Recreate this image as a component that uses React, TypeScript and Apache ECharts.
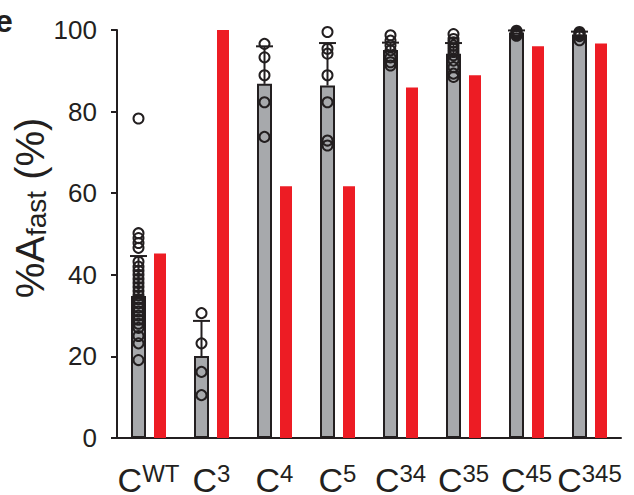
import React, { useEffect, useRef } from "react";
import * as echarts from "echarts";

const categories = ["WT", "3", "4", "5", "34", "35", "45", "345"];
const grayMeans = [34.8, 20.1, 86.8, 86.4, 95.1, 94.2, 99.4, 98.9];
const errTops = [44.6, 28.7, 96.0, 96.8, 96.9, 96.8, 99.9, 99.6];
const redValues = [45.2, 100, 61.7, 61.7, 85.9, 88.9, 96.0, 96.7];
const pointsWT = [78.3, 50.2, 49.0, 47.8, 46.6, 43.2, 42.0, 41.0, 40.0, 39.0, 38.0, 37.0, 36.0, 35.0, 34.0, 33.0, 32.0, 31.0, 30.0, 29.0, 28.0, 27.0, 25.0, 23.2, 19.1];
const points3 = [30.6, 23.2, 16.2, 10.5];
const points4 = [96.6, 93.3, 88.9, 82.3, 73.8];
const points5 = [99.5, 95.4, 94.2, 88.9, 82.3, 72.9, 71.7];
const points34 = [98.7, 97.4, 96.2, 95.0, 93.3, 92.1, 91.3];
const points35 = [99.0, 97.8, 97.0, 96.2, 95.4, 94.6, 93.8, 92.5, 90.9, 89.3, 88.5];
const points45 = [99.8, 99.5, 99.2, 98.9, 98.6];
const points345 = [99.5, 99.2, 98.9, 98.5, 97.5];
const pointGroups = [pointsWT, points3, points4, points5, points34, points35, points45, points345];

const FONT = '"Liberation Sans", Arial, sans-serif';
const INK = "#231f20";
const GRAY_W = 15;
const RED_W = 12;
const GAP = 8;
const GRAY_OFFSET = -(GRAY_W + GAP + RED_W) / 2 + GRAY_W / 2;

export default function App() {
  const ref = useRef<HTMLDivElement>(null);
  useEffect(() => {
    if (!ref.current) return;
    const chart = echarts.init(ref.current, null, { renderer: "svg" });
    const scatterData: number[][] = [];
    pointGroups.forEach((g, i) => g.forEach((v) => scatterData.push([i, v])));
    const errData = grayMeans.map((m, i) => [i, m, errTops[i]]);
    chart.setOption({
      animation: false,
      textStyle: { fontFamily: FONT },
      grid: { left: 117, right: 13, top: 30, bottom: 57, outerBoundsMode: "none", containLabel: false },
      xAxis: {
        type: "category",
        data: categories,
        axisLine: { lineStyle: { color: INK, width: 2 } },
        axisTick: { alignWithLabel: true, length: 6, lineStyle: { color: INK, width: 2 } },
        axisLabel: {
          interval: 0,
          margin: 23,
          formatter: (v: string) => `{c|C}{s|${v}}`,
          rich: {
            c: { fontSize: 34, fontFamily: FONT, color: INK, lineHeight: 38 },
            s: { fontSize: 24, fontFamily: FONT, color: INK, verticalAlign: "top", lineHeight: 26 },
          },
        },
      },
      yAxis: {
        type: "value",
        min: 0,
        max: 100,
        interval: 20,
        splitLine: { show: false },
        axisLine: { show: true, lineStyle: { color: INK, width: 2 } },
        axisTick: { show: true, length: 6, lineStyle: { color: INK, width: 2 } },
        axisLabel: { fontSize: 26, color: INK, fontFamily: FONT, margin: 20 },
      },
      graphic: [
        {
          type: "text",
          x: -5,
          y: 21,
          style: { text: "e", font: `bold 32px ${FONT}`, fill: INK, verticalAlign: "middle" },
        },
        {
          type: "text",
          x: 30,
          y: 208,
          rotation: Math.PI / 2,
          style: {
            text: "{a|%A}{b|fast}{a| (%)}",
            align: "center",
            verticalAlign: "middle",
            rich: {
              a: { fontSize: 40, fontFamily: FONT, fill: INK, lineHeight: 40 },
              b: { fontSize: 28, fontFamily: FONT, fill: INK, verticalAlign: "bottom", lineHeight: 28 },
            },
          },
        },
      ],
      series: [
        {
          type: "bar",
          data: grayMeans,
          barWidth: GRAY_W,
          barGap: `${(GAP / GRAY_W) * 100}%`,
          itemStyle: { color: "#a7a9ac", borderColor: INK, borderWidth: 2 },
          z: 2,
        },
        {
          type: "bar",
          data: redValues,
          barWidth: RED_W,
          itemStyle: { color: "#ed1c24" },
          z: 2,
        },
        {
          type: "custom",
          data: errData,
          z: 1,
          renderItem: (params: any, api: any) => {
            const i = api.value(0);
            const lo = api.coord([i, api.value(1)]);
            const hi = api.coord([i, api.value(2)]);
            const x = lo[0] + GRAY_OFFSET;
            return {
              type: "group",
              children: [
                { type: "line", shape: { x1: x, y1: lo[1], x2: x, y2: hi[1] }, style: { stroke: INK, lineWidth: 2 } },
                { type: "line", shape: { x1: x - 8.5, y1: hi[1], x2: x + 8.5, y2: hi[1] }, style: { stroke: INK, lineWidth: 2 } },
              ],
            };
          },
        },
        {
          type: "custom",
          data: scatterData,
          z: 5,
          renderItem: (params: any, api: any) => {
            const p = api.coord([api.value(0), api.value(1)]);
            return {
              type: "circle",
              shape: { cx: p[0] + GRAY_OFFSET, cy: p[1], r: 5 },
              style: { fill: "none", stroke: INK, lineWidth: 2 },
            };
          },
        },
      ],
    });
    return () => chart.dispose();
  }, []);
  return <div ref={ref} style={{ width: 634, height: 495, position: "absolute", left: 0, top: 0 }} />;
}
